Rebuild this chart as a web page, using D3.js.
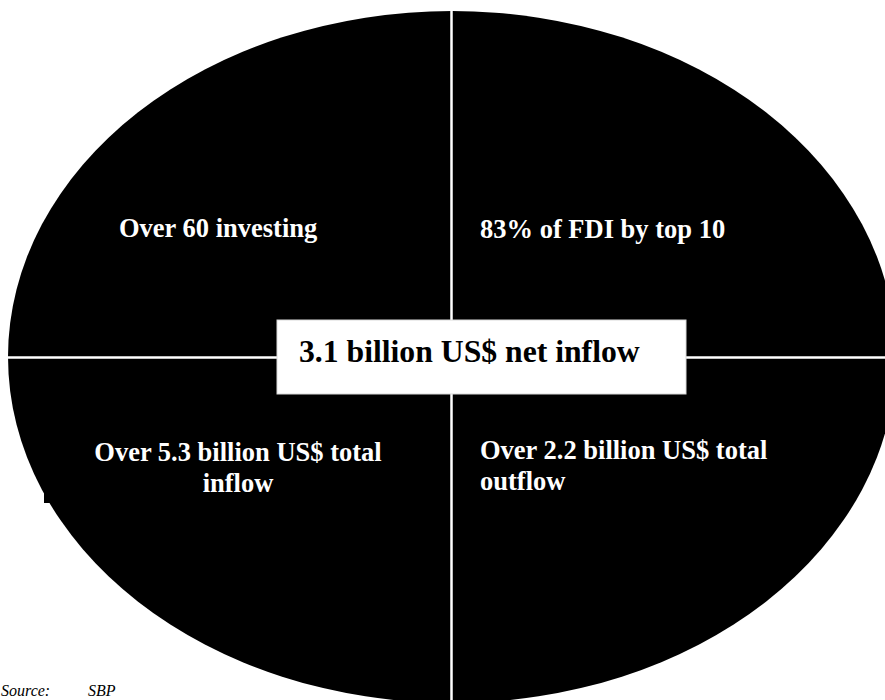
<!DOCTYPE html>
<html>
<head>
<meta charset="utf-8">
<script src="https://cdn.jsdelivr.net/npm/d3@7"></script>
<style>
  html, body { margin: 0; padding: 0; background: #fff; }
  svg { display: block; }
  text { font-family: "Liberation Serif", "Times New Roman", serif; }
</style>
</head>
<body>
<svg id="chart" width="885" height="700"></svg>
<script>
// Quadrant captions, in order: top-left, top-right, bottom-left, bottom-right
const quadrantLines = [
  ["Over 60 investing"],
  ["83% of FDI by top 10"],
  ["Over 5.3 billion US$ total", "inflow"],
  ["Over 2.2 billion US$ total", "outflow"]
];
const centerLabel = ["3.1 billion US$ net inflow"];
const sourceNote = ["Source:", "SBP"];

const W = 885, H = 700;
const svg = d3.select("#chart");

// Unit coordinates (-1..1) mapped onto the ellipse's bounding box
const x = d3.scaleLinear().domain([-1, 1]).range([8, 896]);
const y = d3.scaleLinear().domain([-1, 1]).range([11, 703]);
const cx = x(0), cy = y(0);
const rx = x(1) - cx, ry = y(1) - cy;

// source note sits under the ellipse
const src = svg.append("g").attr("font-style", "italic").attr("font-size", 16).attr("fill", "#000");
src.append("text").attr("x", 1).attr("y", 696).text(sourceNote[0]);
src.append("text").attr("x", 88).attr("y", 696).text(sourceNote[1]);

// main ellipse
svg.append("ellipse")
  .attr("cx", cx).attr("cy", cy)
  .attr("rx", rx).attr("ry", ry)
  .attr("fill", "#000");

// small stray block on the left rim
svg.append("rect").attr("x", 44).attr("y", 489).attr("width", 8).attr("height", 14).attr("fill", "#000");

// quadrant dividers
const divider = svg.append("g").attr("stroke", "#fff").attr("stroke-width", 2.5);
divider.append("line")
  .attr("x1", x(-1)).attr("x2", W)
  .attr("y1", cy + 0.5).attr("y2", cy + 0.5);
divider.append("line")
  .attr("x1", cx - 0.5).attr("x2", cx - 0.5)
  .attr("y1", y(-1)).attr("y2", H);

// quadrant captions
const capSize = 26.5;
const capSpecs = [
  { x: 119, y: 237, anchor: "start", gap: 30 },
  { x: 480, y: 238, anchor: "start", gap: 30 },
  { x: 238, y: 461, anchor: "middle", gap: 31 },
  { x: 480, y: 459, anchor: "start", gap: 31 }
];

// the lower-left caption box trims the foot of its second line
svg.append("defs").append("clipPath").attr("id", "clipLL")
  .append("rect").attr("x", 0).attr("y", 380).attr("width", 450).attr("height", 112);

const caps = svg.append("g")
  .attr("font-weight", "bold")
  .attr("font-size", capSize)
  .attr("fill", "#fff");

quadrantLines.forEach((lines, i) => {
  const s = capSpecs[i];
  const t = caps.append("text")
    .attr("x", s.x).attr("y", s.y)
    .attr("text-anchor", s.anchor);
  if (i === 2) t.attr("clip-path", "url(#clipLL)");
  t.selectAll("tspan").data(lines).join("tspan")
    .attr("x", s.x)
    .attr("dy", (d, j) => j === 0 ? 0 : s.gap)
    .text(d => d);
});

// central summary box
svg.append("rect")
  .attr("x", 277).attr("y", 320)
  .attr("width", 409).attr("height", 74)
  .attr("fill", "#fff")
  .attr("stroke", "#d9d9d9").attr("stroke-width", 1);

svg.append("text")
  .attr("x", 299).attr("y", 362)
  .attr("font-weight", "bold")
  .attr("font-size", 31.7)
  .attr("fill", "#000")
  .text(centerLabel[0]);
</script>
</body>
</html>
